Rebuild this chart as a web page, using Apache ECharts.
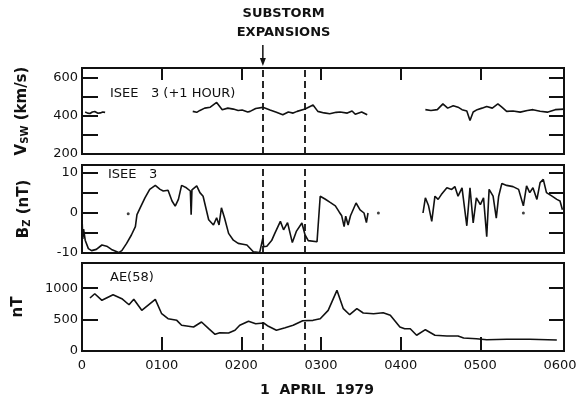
<!DOCTYPE html>
<html>
<head>
<meta charset="utf-8">
<script src="https://cdn.jsdelivr.net/npm/echarts@6/dist/echarts.min.js"></script>
<style>
  html, body { margin: 0; padding: 0; background: #fff; }
  #chart { width: 582px; height: 406px; }
</style>
</head>
<body>
<div id="chart"></div>
<script>
// Time axis is in hours after 0000 UT, 1 April 1979.
const hourTicks = [1, 2, 3, 4, 5];
const hourLabels = [0, 1, 2, 3, 4, 5, 6];
const substormTimes = [2.27, 2.79];

// Solar wind speed, ISEE 3 (shifted +1 hour), km/s. null = no data.
const vswTime = [0.04, 0.07, 0.10, 0.13, 0.16, 0.20, 0.23, 0.26, 0.29,
  0.8,
  1.39, 1.44, 1.48, 1.54, 1.61, 1.69, 1.76, 1.83, 1.90, 1.96, 2.01, 2.08, 2.11, 2.18, 2.27,
  2.36, 2.44, 2.52, 2.59, 2.65, 2.70, 2.80, 2.90, 2.96, 3.04, 3.11, 3.19, 3.24, 3.33,
  3.39, 3.43, 3.51, 3.58,
  4.0,
  4.31, 4.38, 4.46, 4.53, 4.59, 4.66, 4.72, 4.77, 4.83, 4.87, 4.91, 4.96, 5.02, 5.08,
  5.15, 5.22, 5.27, 5.33, 5.41, 5.50, 5.59, 5.66, 5.75, 5.84, 5.94, 6.05];
const vswValue = [420, 414, 412, 420, 422, 413, 415, 420, 418,
  null,
  423, 418, 428, 440, 445, 470, 432, 440, 435, 428, 430, 420, 423, 438, 444,
  430, 418, 405, 420, 414, 423, 435, 456, 423, 415, 411, 418, 420, 414,
  425, 408, 420, 405,
  null,
  432, 428, 432, 462, 440, 453, 445, 432, 425, 375, 420, 432, 440, 449,
  440, 462, 445, 423, 425, 419, 428, 432, 424, 419, 432, 435];

// IMF Bz, ISEE 3, nT.
const bzTime = [0.00, 0.01, 0.02, 0.04, 0.08, 0.12, 0.18, 0.25, 0.31, 0.37, 0.46, 0.50,
  0.56, 0.62, 0.67, 0.69, 0.73, 0.79, 0.85, 0.92, 0.98, 1.02, 1.08, 1.13, 1.17, 1.21,
  1.25, 1.31, 1.36, 1.37, 1.38, 1.40, 1.44, 1.48, 1.52, 1.59, 1.65, 1.69, 1.72, 1.75,
  1.79, 1.84, 1.90, 1.96, 2.02, 2.07, 2.15, 2.23, 2.27, 2.28, 2.32, 2.38, 2.42, 2.49,
  2.53, 2.58, 2.64, 2.69, 2.76, 2.80, 2.84, 2.95, 2.99, 3.05, 3.11, 3.18, 3.23, 3.26,
  3.29, 3.31, 3.34, 3.37, 3.44, 3.49, 3.54, 3.57, 3.59,
  3.9,
  4.28, 4.31, 4.35, 4.39, 4.43, 4.47, 4.51, 4.58, 4.64, 4.68, 4.72, 4.77, 4.83, 4.87,
  4.91, 4.95, 5.00, 5.04, 5.08, 5.11, 5.16, 5.20, 5.23, 5.27, 5.33, 5.41, 5.48, 5.54,
  5.58, 5.62, 5.66, 5.71, 5.75, 5.79, 5.83, 5.90, 5.96, 6.00, 6.03];
const bzValue = [-1.0, -6.5, -4.0, -6.8, -8.9, -9.4, -9.1, -8.0, -8.3, -9.1, -9.9, -9.4,
  -7.6, -5.5, -3.4, -0.4, 1.3, 3.8, 5.9, 6.9, 5.9, 5.5, 5.7, 3.0, 1.7, 3.4,
  6.9, 6.3, 5.5, -0.4, 5.8, 6.1, 6.8, 5.1, 4.2, -1.7, -3.0, -1.2, -3.0, 1.3,
  -1.3, -5.1, -6.8, -7.6, -7.8, -8.0, -9.7, -9.9, -6.3, -8.4, -8.3, -6.9, -5.1, -2.1,
  -4.2, -2.4, -7.4, -4.6, -2.5, -5.5, -6.9, -7.2, 4.2, 3.5, 2.7, 1.8, 0.2, -0.7,
  -3.4, -0.8, -3.0, -0.7, 2.5, 0.8, 0.0, -2.4, 0.0,
  null,
  0.0, 3.8, 1.8, -2.1, 4.2, 3.4, 4.6, 6.3, 5.9, 6.6, 4.2, 6.3, -3.2, 6.3,
  -2.5, 3.8, 2.1, 3.8, -5.9, 5.9, 4.2, -1.3, 4.2, 7.4, 6.9, 6.6, 5.9, 1.8,
  6.8, 5.1, 6.3, 3.4, 7.6, 8.4, 5.1, 4.2, 3.4, 3.0, 0.8];
// Isolated Bz samples.
const bzDotTime = [0.58, 3.72, 5.54];
const bzDotValue = [-0.2, 0.0, 0.0];

// AE index (58 stations), nT.
const aeTime = [0.10, 0.16, 0.25, 0.39, 0.50, 0.59, 0.65, 0.75, 0.92, 1.00, 1.08, 1.19,
  1.25, 1.40, 1.50, 1.59, 1.67, 1.73, 1.84, 1.92, 1.98, 2.09, 2.18, 2.28, 2.34, 2.44,
  2.55, 2.65, 2.77, 2.90, 2.99, 3.09, 3.20, 3.28, 3.36, 3.45, 3.53, 3.66, 3.78, 3.87,
  3.99, 4.05, 4.12, 4.20, 4.31, 4.43, 4.58, 4.72, 4.79, 4.95, 5.08, 5.33, 5.62, 5.96];
const aeValue = [843, 911, 806, 896, 832, 736, 822, 647, 822, 593, 514, 488,
  409, 382, 461, 355, 266, 291, 286, 329, 409, 472, 434, 445, 393, 329,
  370, 409, 482, 488, 514, 647, 965, 673, 577, 673, 604, 593, 609, 568,
  382, 355, 355, 250, 339, 250, 239, 239, 207, 196, 180, 186, 186, 175];

const INK = '#111';
const FONT = 'DejaVu Sans';

function pairs(t, v) {
  return t.map((x, i) => [x, v[i] === null ? '-' : v[i]]);
}
function hourLabel(v) {
  return v === 0 ? '0' : ('0' + v + '00');
}

const grids = [
  { left: 82, right: 18, top: 68, height: 86 },
  { left: 82, right: 18, top: 165, height: 88 },
  { left: 82, right: 18, top: 263, height: 88 }
].map(g => Object.assign({ show: true, borderColor: INK, borderWidth: 2, backgroundColor: 'transparent' }, g));

const frameLine = { show: true, onZero: false, lineStyle: { color: INK, width: 2 } };

function xAxisFor(idx, opts) {
  return Object.assign({
    type: 'value', gridIndex: idx, min: 0, max: 6.05,
    axisLine: frameLine,
    splitLine: { show: false },
    axisTick: { show: false },
    axisLabel: { show: false }
  }, opts);
}

const xAxes = [
  xAxisFor(0, {
    position: 'top',
    axisTick: { show: true, inside: true, length: 12, customValues: hourTicks, lineStyle: { color: INK, width: 2 } }
  }),
  xAxisFor(1, {}),
  xAxisFor(2, {
    position: 'bottom',
    axisTick: { show: true, inside: true, length: 14, customValues: hourTicks, lineStyle: { color: INK, width: 2 } },
    axisLabel: { show: true, customValues: hourLabels, formatter: hourLabel, color: INK, fontFamily: FONT, fontSize: 13, margin: 8 },
    name: '1  APRIL  1979',
    nameLocation: 'middle',
    nameGap: 32,
    nameTextStyle: { color: INK, fontFamily: FONT, fontSize: 14, fontWeight: 'bold', padding: [0, 12, 0, 0] }
  })
];

function yPair(idx, min, max, labels, ticks, name, nameGap) {
  const tickStyle = { show: true, inside: true, length: 16, customValues: ticks, lineStyle: { color: INK, width: 2 } };
  return [
    {
      type: 'value', gridIndex: idx, min: min, max: max, position: 'left',
      axisLine: frameLine, splitLine: { show: false },
      axisTick: tickStyle,
      axisLabel: { show: true, customValues: labels, formatter: v => String(v), color: INK, fontFamily: FONT, fontSize: 13, margin: 4 },
      name: name, nameLocation: 'middle', nameRotate: 90, nameGap: nameGap,
      nameTextStyle: {
        color: INK, fontFamily: FONT, fontSize: 15, fontWeight: 'bold',
        rich: {
          sub: { fontFamily: FONT, fontSize: 10, fontWeight: 'bold', color: INK, verticalAlign: 'bottom', padding: [6, 0, 0, 0] }
        }
      }
    },
    {
      type: 'value', gridIndex: idx, min: min, max: max, position: 'right',
      axisLine: frameLine, splitLine: { show: false },
      axisTick: Object.assign({}, tickStyle, { length: 15 }),
      axisLabel: { show: false }
    }
  ];
}

const yAxes = [].concat(
  yPair(0, 200, 650, [200, 400, 600], [300, 400, 500, 600], 'V{sub|SW} (km/s)', 52),
  yPair(1, -10, 12, [-10, 0, 10], [-5, 0, 5, 10], 'B{sub|Z} (nT)', 50),
  yPair(2, 0, 1400, [0, 500, 1000], [500, 1000], 'nT', 56)
);

const substormLines = {
  silent: true,
  symbol: 'none',
  label: { show: false },
  lineStyle: { color: INK, width: 1.8, type: [7, 4] },
  data: substormTimes.map(t => ({ xAxis: t }))
};

const lineStyle = { color: INK, width: 1.6 };

const option = {
  backgroundColor: '#fff',
  animation: false,
  grid: grids,
  xAxis: xAxes,
  yAxis: yAxes,
  series: [
    {
      type: 'line', xAxisIndex: 0, yAxisIndex: 0, data: pairs(vswTime, vswValue),
      showSymbol: false, connectNulls: false, lineStyle: lineStyle, markLine: substormLines
    },
    {
      type: 'line', xAxisIndex: 1, yAxisIndex: 2, data: pairs(bzTime, bzValue),
      showSymbol: false, connectNulls: false, lineStyle: lineStyle, markLine: substormLines
    },
    {
      type: 'scatter', xAxisIndex: 1, yAxisIndex: 2, data: pairs(bzDotTime, bzDotValue),
      symbolSize: 3, itemStyle: { color: INK }
    },
    {
      type: 'line', xAxisIndex: 2, yAxisIndex: 4, data: pairs(aeTime, aeValue),
      showSymbol: false, lineStyle: lineStyle, markLine: substormLines
    }
  ]
};

const chart = echarts.init(document.getElementById('chart'), null, { renderer: 'canvas' });
chart.setOption(option);

// Panel captions and the substorm marker, placed from the axis scale.
const x0 = chart.convertToPixel({ xAxisIndex: 0 }, substormTimes[0]);
const x1 = chart.convertToPixel({ xAxisIndex: 0 }, substormTimes[1]);
const caption = (text, x, y, font, align) => ({
  type: 'text', x: x, y: y,
  style: { text: text, fill: INK, font: font, align: align || 'left', verticalAlign: 'middle' }
});
chart.setOption({
  graphic: [
    caption('SUBSTORM', (x0 + x1) / 2, 14, 'bold 13px "DejaVu Sans"', 'center'),
    caption('EXPANSIONS', (x0 + x1) / 2, 33, 'bold 13px "DejaVu Sans"', 'center'),
    { type: 'line', shape: { x1: x0, y1: 45, x2: x0, y2: 60 }, style: { stroke: INK, lineWidth: 1.5 } },
    { type: 'polygon', shape: { points: [[x0 - 3, 58], [x0 + 3, 58], [x0, 66]] }, style: { fill: INK } },
    caption('ISEE   3 (+1 HOUR)', 110, 94, '13px "DejaVu Sans"'),
    caption('ISEE   3', 108, 175, '13px "DejaVu Sans"'),
    caption('AE(58)', 110, 278, '13px "DejaVu Sans"')
  ]
});
</script>
</body>
</html>
